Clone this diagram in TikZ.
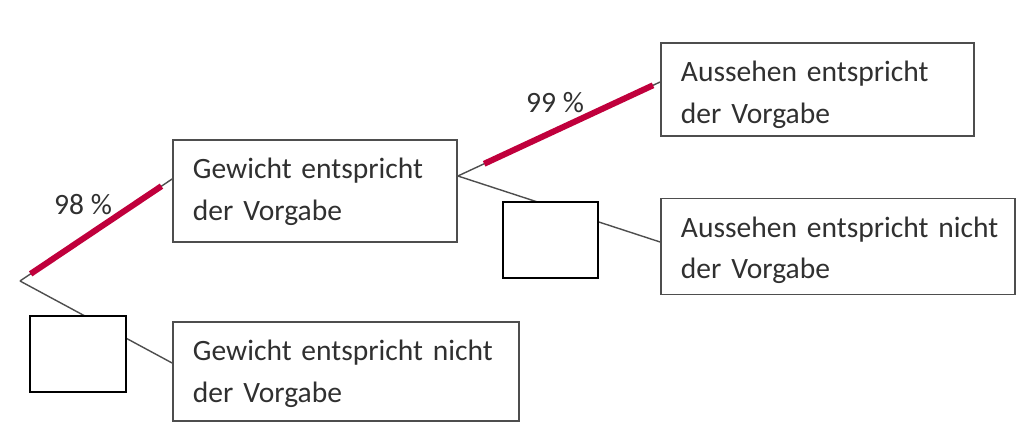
\documentclass[tikz,border=0pt]{standalone}
\usepackage{fontspec}
\setmainfont{Carlito}
\usepackage{xcolor}
\usepackage{tikz}
\usetikzlibrary{calc,positioning}
\definecolor{hitred}{RGB}{192,0,60}
\definecolor{framegray}{RGB}{78,78,78}
\definecolor{textgray}{RGB}{48,48,48}
\tikzset{
  txtbox/.style={draw=framegray, line width=1.2pt, align=left, text=textgray, inner xsep=0.5cm, inner ysep=0pt, text height=0.975cm, font=\fontsize{21}{29.2}\selectfont},
  emptybox/.style={draw=black, line width=1.5pt, fill=white, inner sep=0pt, minimum height=1.9cm},
  branch/.style={draw=framegray, line width=1pt},
  hit/.style={draw=hitred, line width=4.3pt},
  prob/.style={text=textgray, font=\fontsize{21}{25}\selectfont}
}

\begin{document}
\begin{tikzpicture}[x=0.025cm, y=-0.025cm]
  \useasboundingbox (0,0) rectangle (1027,431);
  \node[txtbox, minimum width=7.1cm, minimum height=2.55cm, text width=6.1cm, text depth=1.575cm] (gew) at (315,191) {\mbox{Gewicht entspricht}\\der Vorgabe};
  \node[txtbox, minimum width=8.65cm, minimum height=2.475cm, text width=7.65cm, text depth=1.5cm] (gewnicht) at (346,371.5) {\mbox{Gewicht entspricht nicht}\\der Vorgabe};
  \node[txtbox, minimum width=7.825cm, minimum height=2.325cm, text width=6.825cm, text depth=1.35cm] (aus) at (817.5,89.5) {\mbox{Aussehen entspricht}\\der Vorgabe};
  \node[txtbox, minimum width=8.85cm, minimum height=2.4cm, text width=7.85cm, text depth=1.425cm] (ausnicht) at (838,246.5) {\mbox{Aussehen entspricht nicht}\\der Vorgabe};
  % branch points
  \coordinate (root) at (20,281);
  \coordinate (gewin) at ($(gew.west)+(0,-12)$);
  \coordinate (gewout) at ($(gew.east)+(0,-15)$);
  \coordinate (gewnin) at ($(gewnicht.west)+(0,-8.5)$);
  \coordinate (ausin) at ($(aus.west)+(0,-7.5)$);
  \coordinate (ausnin) at ($(ausnicht.west)+(0,-4.5)$);
  \draw[branch] (root) -- (gewin);
  \draw[branch] (root) -- (gewnin);
  \draw[branch] (gewout) -- (ausin);
  \draw[branch] (gewout) -- (ausnin);
  \draw[hit] ($(root)!0.07!(gewin)$) -- ($(root)!0.93!(gewin)$);
  \draw[hit] ($(gewout)!0.13!(ausin)$) -- ($(gewout)!0.965!(ausin)$);
  \node[emptybox, minimum width=2.4cm] (leer1) at (78,354) {};
  \node[emptybox, minimum width=2.375cm] (leer2) at (550.5,240) {};
  \node[prob] (p98) at (83,205) {98 \%};
  \node[prob] (p99) at (555,103) {99 \%};
\end{tikzpicture}
\end{document}
